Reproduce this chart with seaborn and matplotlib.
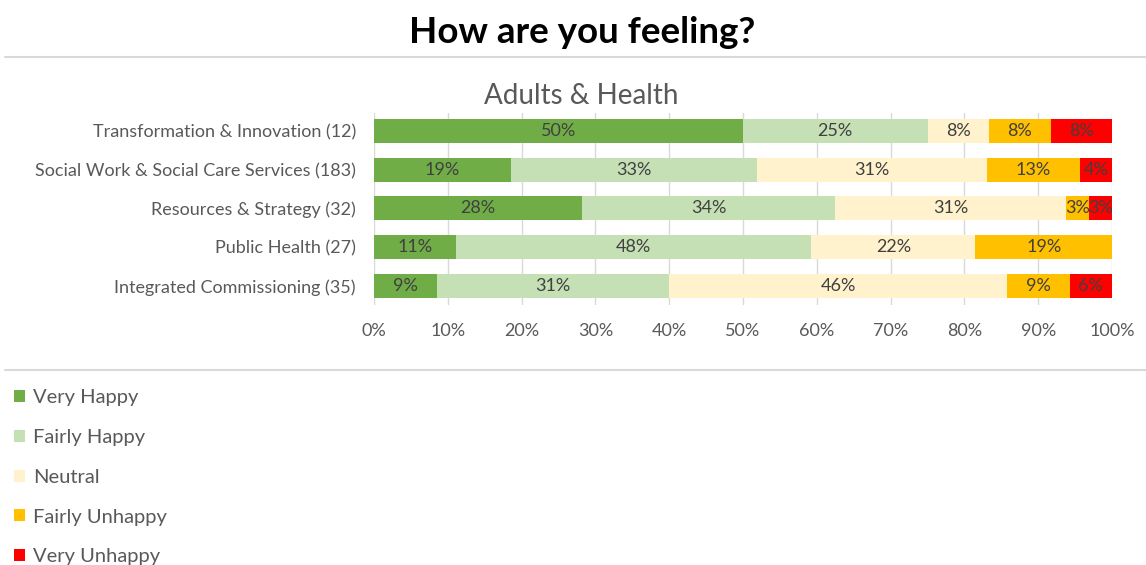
import matplotlib
matplotlib.use("Agg")
import matplotlib.pyplot as plt
import seaborn as sns
import numpy as np
import pandas as pd
from matplotlib.patches import Patch
from matplotlib.lines import Line2D

categories = ["Transformation & Innovation (12)",
              "Social Work & Social Care Services (183)",
              "Resources & Strategy (32)",
              "Public Health (27)",
              "Integrated Commissioning (35)"]
series_names = ["Very Happy", "Fairly Happy", "Neutral", "Fairly Unhappy", "Very Unhappy"]
very_happy = [50.0, 18.58, 28.13, 11.11, 8.57]
fairly_happy = [25.0, 33.33, 34.38, 48.15, 31.43]
neutral = [8.33, 31.15, 31.25, 22.22, 45.71]
fairly_unhappy = [8.33, 12.57, 3.13, 18.52, 8.57]
very_unhappy = [8.33, 4.37, 3.13, 0.0, 5.71]
colors = ["#70AD47", "#C5E0B4", "#FFF2CC", "#FFC000", "#FF0000"]
xticks = [0, 10, 20, 30, 40, 50, 60, 70, 80, 90, 100]
tick_labels = [f"{t}%" for t in xticks]

sns.set_theme(style="white")
plt.rcParams['font.family'] = ['Lato', 'DejaVu Sans']

series = [very_happy, fairly_happy, neutral, fairly_unhappy, very_unhappy]
vals = np.array(series)
cum = np.cumsum(vals, axis=0)
lefts = cum - vals

fig = plt.figure(figsize=(11.46, 5.65), dpi=100)
ax = fig.add_axes([0.3264, 0.460, 0.644, 0.340])

for i in range(len(series) - 1, -1, -1):
    df = pd.DataFrame({"cat": categories, "val": cum[i]})
    sns.barplot(data=df, x="val", y="cat", orient="h", color=colors[i],
                width=0.62, ax=ax, saturation=1, zorder=3, linewidth=0,
                edgecolor="none")

for i in range(len(series)):
    for j in range(len(categories)):
        v = vals[i, j]
        if v <= 0:
            continue
        ax.text(lefts[i, j] + v / 2, j, f"{int(v + 0.5)}%", ha="center", va="center",
                fontsize=13, color="#404040", zorder=5)

ax.set_xlim(0, 100)
ax.set_ylim(4.49, -0.46)
ax.set_xticks(xticks)
ax.set_xticklabels(tick_labels, fontsize=13, color="#595959")
ax.tick_params(axis="y", labelsize=13, labelcolor="#595959", length=0, pad=13)
ax.tick_params(axis="x", length=0, pad=13)
ax.set_xlabel("")
ax.set_ylabel("")
ax.grid(axis="x", color="#D9D9D9", lw=1, zorder=0)
for s in ax.spines.values():
    s.set_visible(False)

fig.text(0.508, 0.942, "How are you feeling?", ha="center", va="center",
         fontsize=26.5, fontweight="bold", color="black")
fig.text(0.507, 0.830, "Adults & Health", ha="center", va="center",
         fontsize=20, color="#595959")
fig.add_artist(Line2D([0.004, 1.0], [0.899, 0.899], color="#D9D9D9", lw=1.5,
                      transform=fig.transFigure))
fig.add_artist(Line2D([0.004, 1.0], [0.345, 0.345], color="#D9D9D9", lw=1.5,
                      transform=fig.transFigure))

handles = [Patch(facecolor=c, edgecolor="none") for c in colors]
fig.legend(handles, series_names, loc="upper left", bbox_to_anchor=(0.012, 0.311),
           frameon=False, fontsize=14.5, labelcolor="#595959", handlelength=0.55,
           handleheight=0.55, handletextpad=0.4, labelspacing=1.13, borderaxespad=0,
           borderpad=0)

fig.savefig("out.png", dpi=100)
